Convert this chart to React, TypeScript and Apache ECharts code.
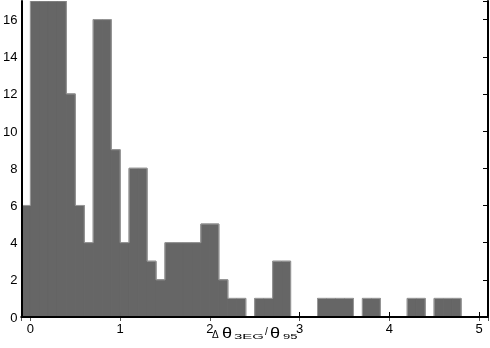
import React, { useEffect, useRef } from 'react';
import * as echarts from 'echarts';

// Histogram bins: left edge of first bin and bin width
const binStart = -0.1;
const binWidth = 0.1;
// Counts per bin (bins from -0.1 to 4.8)
const counts = [
  6, 17, 17, 17, 17, 12, 6, 4, 16, 16,
  9, 4, 8, 8, 3, 2, 4, 4, 4, 4,
  5, 5, 2, 1, 1, 0, 1, 1, 3, 3,
  0, 0, 0, 1, 1, 1, 1, 0, 1, 1,
  0, 0, 0, 1, 1, 0, 1, 1, 1,
];
const xMin = -0.1;
const xMax = 5.1;
const yMin = 0;
const yMax = 17;

const FONT = '"Liberation Sans", Arial, Helvetica, sans-serif';

export default function App() {
  const ref = useRef<HTMLDivElement>(null);
  useEffect(() => {
    const chart = echarts.init(ref.current!, null, { renderer: 'svg' });
    const data = counts.map((c, i) => [
      binStart + i * binWidth,
      c,
      i > 0 ? counts[i - 1] : 0,
      i === counts.length - 1 ? 1 : 0,
    ]);

    const xBase = {
      type: 'value',
      min: xMin,
      max: xMax,
      minInterval: 1,
      maxInterval: 1,
      splitLine: { show: false },
    };
    const yBase = {
      type: 'value',
      min: yMin,
      max: yMax,
      interval: 2,
      splitLine: { show: false },
    };

    const txt = (text: string, x: number, y: number, fontSize: number, sx = 1, sy = 1) => ({
      type: 'text',
      x,
      y,
      scaleX: sx,
      scaleY: sy,
      style: { text, fontSize, fontFamily: FONT, fill: '#000', textAlign: 'left', textVerticalAlign: 'bottom' },
    });

    chart.setOption({
      animation: false,
      grid: { left: 21, right: 2, top: 1, bottom: 31, containLabel: false },
      xAxis: [
        {
          ...xBase,
          position: 'bottom',
          z: 1,
          axisLine: { show: false },
          axisTick: { show: true, inside: true, length: 5, lineStyle: { color: '#000', width: 1 } },
          axisLabel: {
            show: true,
            showMinLabel: false,
            showMaxLabel: false,
            color: '#000',
            fontSize: 13,
            fontFamily: FONT,
            margin: 5,
            formatter: (v: number) => (Math.abs(v - Math.round(v)) < 1e-6 ? String(Math.round(v)) : ''),
          },
        },
        {
          ...xBase,
          position: 'top',
          z: 1,
          axisLine: { show: true, lineStyle: { color: '#555', width: 2 } },
          axisTick: { show: true, inside: true, length: 4, lineStyle: { color: '#555', width: 1 } },
          axisLabel: { show: false },
        },
        {
          ...xBase,
          position: 'bottom',
          z: 5,
          axisLine: { show: true, onZero: false, lineStyle: { color: '#000', width: 2 } },
          axisTick: { show: false },
          axisLabel: { show: false },
        },
      ],
      yAxis: [
        {
          ...yBase,
          position: 'left',
          z: 1,
          axisLine: { show: false },
          axisTick: { show: true, inside: true, length: 4, lineStyle: { color: '#000', width: 1 } },
          axisLabel: {
            show: true,
            showMaxLabel: false,
            color: '#000',
            fontSize: 13,
            fontFamily: FONT,
            margin: 4,
            formatter: (v: number) => (v > 16 ? '' : String(v)),
          },
        },
        {
          ...yBase,
          position: 'right',
          z: 1,
          axisLine: { show: true, onZero: false, lineStyle: { color: '#000', width: 2 } },
          axisTick: { show: true, inside: true, length: 5, lineStyle: { color: '#000', width: 1 } },
          axisLabel: { show: false },
        },
        {
          ...yBase,
          position: 'left',
          z: 5,
          axisLine: { show: true, onZero: false, lineStyle: { color: '#000', width: 2 } },
          axisTick: { show: false },
          axisLabel: { show: false },
        },
      ],
      graphic: [
        {
          type: 'group',
          z: 10,
          children: [
            txt('Δ', 212, 339, 10),
            txt('θ', 222, 340, 14, 1.3, 1),
            txt('3EG', 234, 340.5, 13, 1.15, 0.62),
            txt('/', 265, 336, 10),
            txt('θ', 270, 340, 14, 1.3, 1),
            txt('95', 283, 340.5, 13, 1.0, 0.62),
          ],
        },
      ],
      series: [
        {
          type: 'custom',
          xAxisIndex: 0,
          yAxisIndex: 0,
          clip: true,
          z: 2,
          encode: { x: 0, y: 1 },
          data,
          renderItem: (params: any, api: any) => {
            const x0 = api.value(0);
            const h = api.value(1);
            const hp = api.value(2);
            const last = api.value(3);
            const x1 = x0 + binWidth;
            const children: any[] = [];
            if (h > 0) {
              const pBL = api.coord([x0, 0]);
              const pTR = api.coord([x1, h]);
              children.push({
                type: 'rect',
                shape: { x: pBL[0], y: pTR[1], width: pTR[0] - pBL[0], height: pBL[1] - pTR[1] },
                style: { fill: '#666666', stroke: '#666666', lineWidth: 1 },
              });
            }
            const pts: number[][] = [];
            if (hp !== h) pts.push(api.coord([x0, hp]));
            if (h > 0 || hp > 0) pts.push(api.coord([x0, h]));
            if (h > 0) pts.push(api.coord([x1, h]));
            if (last && h > 0) pts.push(api.coord([x1, 0]));
            if (pts.length >= 2) {
              children.push({
                type: 'polyline',
                z2: 5,
                shape: { points: pts },
                style: { stroke: '#9a9a9a', lineWidth: 1, fill: 'none' },
              });
            }
            return { type: 'group', children };
          },
        },
      ],
    });
    return () => chart.dispose();
  }, []);
  return <div ref={ref} style={{ position: 'fixed', left: 0, top: 0, width: 490, height: 348 }} />;
}
